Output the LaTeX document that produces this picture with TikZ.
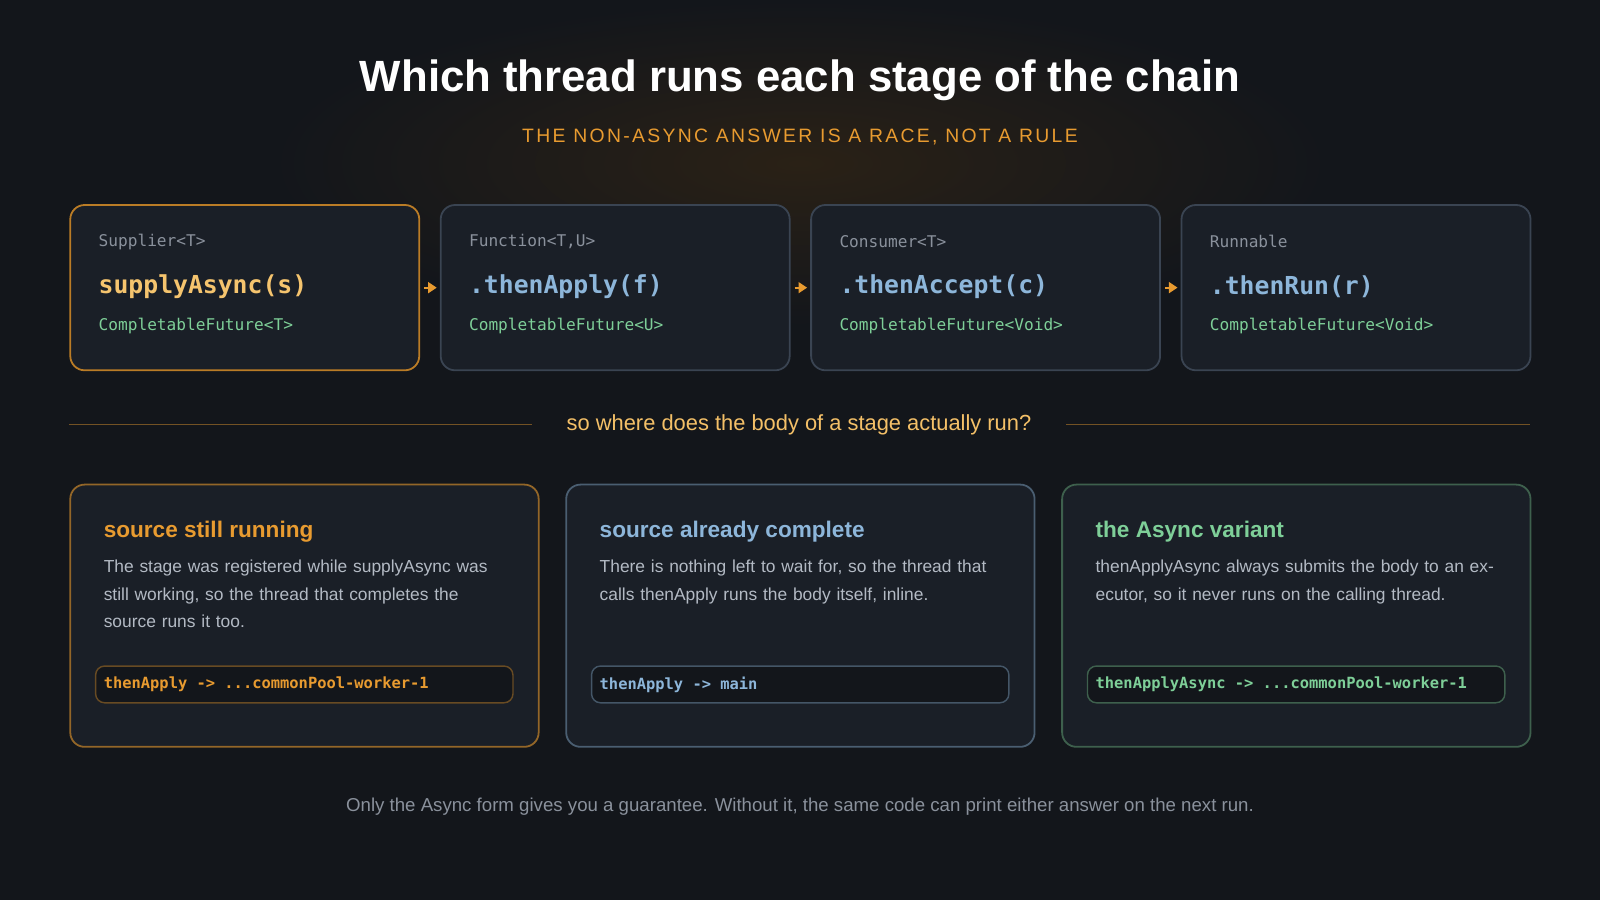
\documentclass[tikz,border=0pt]{standalone}
\usepackage{fontspec}
\setmainfont{Liberation Sans}
\setmonofont{DejaVu Sans Mono}
\newfontfamily\spacedfont[LetterSpace=12]{Liberation Sans}
\usetikzlibrary{positioning,arrows.meta}
\definecolor{bgc}{HTML}{13161B}
\definecolor{glowc}{HTML}{2A2116}
\definecolor{cardc}{HTML}{1A1F27}
\definecolor{edgec}{HTML}{3A4452}
\definecolor{orng}{HTML}{E89B30}
\definecolor{lorng}{HTML}{F5C46E}
\definecolor{bluec}{HTML}{8DB6DA}
\definecolor{greenc}{HTML}{7ECF98}
\definecolor{greyc}{HTML}{8A919C}
\definecolor{bodyc}{HTML}{B3BAC4}
\tikzset{
  stage/.style={draw=edgec, line width=0.5pt, fill=cardc, rounded corners=4pt,
    minimum width=3.42cm, minimum height=1.62cm, inner sep=0pt, anchor=north west},
  case/.style={draw=#1, line width=0.5pt, fill=cardc, rounded corners=4pt,
    minimum width=4.59cm, minimum height=2.57cm, inner sep=0pt, anchor=north west},
  codebox/.style={draw=#1, line width=0.4pt, fill=bgc, rounded corners=2.5pt,
    minimum width=4.09cm, minimum height=0.36cm, inner sep=0pt, anchor=north west},
  kind/.style={font=\ttfamily\fontsize{4.5}{5}\selectfont, text=greyc, anchor=west, inner sep=0pt},
  call/.style={font=\ttfamily\bfseries\fontsize{6.9}{8}\selectfont, anchor=west, inner sep=0pt},
  ret/.style={font=\ttfamily\fontsize{4.5}{5}\selectfont, text=greenc, anchor=west, inner sep=0pt},
  head/.style={font=\bfseries\fontsize{6.3}{7}\selectfont, anchor=west, inner sep=0pt},
  body/.style={font=\fontsize{4.85}{7.7}\selectfont, text=bodyc, anchor=north west,
    inner sep=0pt, text width=4.0cm, align=left},
  code/.style={font=\ttfamily\bfseries\fontsize{4.3}{5}\selectfont, anchor=west, inner sep=0pt},
  link/.style={orng, line width=0.6pt, -{Triangle[length=2.4pt,width=3pt]}}
}
\begin{document}
\begin{tikzpicture}
\fill[bgc] (0,0) rectangle (15.68,-8.82);
\useasboundingbox (0,0) rectangle (15.68,-8.82);
\shade[inner color=glowc, outer color=bgc] (7.84,-1.6) ellipse (5.2cm and 1.6cm);

% title
\node[font=\bfseries\fontsize{12.2}{14}\selectfont, text=white] (title) at (7.84,-0.79) {Which thread runs each stage of the chain};
\node[font=\spacedfont\fontsize{5.4}{6}\selectfont, text=orng] (sub) at (7.84,-1.34) {THE NON-ASYNC ANSWER IS A RACE, NOT A RULE};

% chain of stages
\node[stage, draw=orng!80!black] (s1) at (0.68,-2.00) {};
\node[stage] (s2) at (4.31,-2.00) {};
\node[stage] (s3) at (7.94,-2.00) {};
\node[stage] (s4) at (11.57,-2.00) {};
\foreach \n/\k/\c/\col/\r in {s1/{Supplier<T>}/{supplyAsync(s)}/lorng/{CompletableFuture<T>},
    s2/{Function<T,U>}/{.thenApply(f)}/bluec/{CompletableFuture<U>},
    s3/{Consumer<T>}/{.thenAccept(c)}/bluec/{CompletableFuture<Void>},
    s4/{Runnable}/{.thenRun(r)}/bluec/{CompletableFuture<Void>}}{
  \node[kind] (\n k) at ([xshift=0.28cm,yshift=-0.37cm]\n.north west) {\k};
  \node[call, text=\col] (\n c) at ([xshift=0.28cm,yshift=-0.81cm]\n.north west) {\c};
  \node[ret] (\n r) at ([xshift=0.28cm,yshift=-1.19cm]\n.north west) {\r};
}
\draw[link] ([xshift=0.04cm]s1.east) -- ([xshift=-0.03cm]s2.west);
\draw[link] ([xshift=0.04cm]s2.east) -- ([xshift=-0.03cm]s3.west);
\draw[link] ([xshift=0.04cm]s3.east) -- ([xshift=-0.03cm]s4.west);

% divider
\node[font=\fontsize{6.1}{7}\selectfont, text=lorng!90!orng] (ask) at (7.83,-4.16) {so where does the body of a stage actually run?};
\coordinate (dl) at (0.68,-4.16);
\coordinate (dr) at (14.99,-4.16);
\draw[orng!45!bgc, line width=0.5pt] (dl) -- ([xshift=-0.22cm]ask.west);
\draw[orng!45!bgc, line width=0.5pt] ([xshift=0.22cm]ask.east) -- (dr);

% the three cases
\node[case=orng!60!bgc] (c1) at (0.68,-4.74) {};
\node[case=bluec!45!bgc] (c2) at (5.54,-4.74) {};
\node[case=greenc!40!bgc] (c3) at (10.40,-4.74) {};
\foreach \n/\col/\h/\b/\x in {
    c1/orng/{source still running}/{The stage was registered while supplyAsync was still working, so the thread that completes the source runs it too.}/{thenApply -> {...}commonPool-worker-1},
    c2/bluec/{source already complete}/{There is nothing left to wait for, so the thread that calls thenApply runs the body itself, inline.}/{thenApply -> main},
    c3/greenc/{the Async variant}/{thenApplyAsync always submits the body to an executor, so it never runs on the calling thread.}/{thenApplyAsync -> {...}commonPool-worker-1}}{
  \node[head, text=\col] (\n h) at ([xshift=0.33cm,yshift=-0.47cm]\n.north west) {\h};
  \node[body] (\n b) at ([xshift=0.33cm,yshift=-0.74cm]\n.north west) {\b};
  \node[codebox=\col!40!bgc] (\n x) at ([xshift=0.25cm,yshift=-1.78cm]\n.north west) {};
  \node[code, text=\col] (\n t) at ([xshift=0.08cm]\n x.west) {\x};
}

% footer
\node[font=\fontsize{5.2}{6}\selectfont, text=greyc] (foot) at (7.84,-7.91) {Only the Async form gives you a guarantee. Without it, the same code can print either answer on the next run.};
\end{tikzpicture}
\end{document}
